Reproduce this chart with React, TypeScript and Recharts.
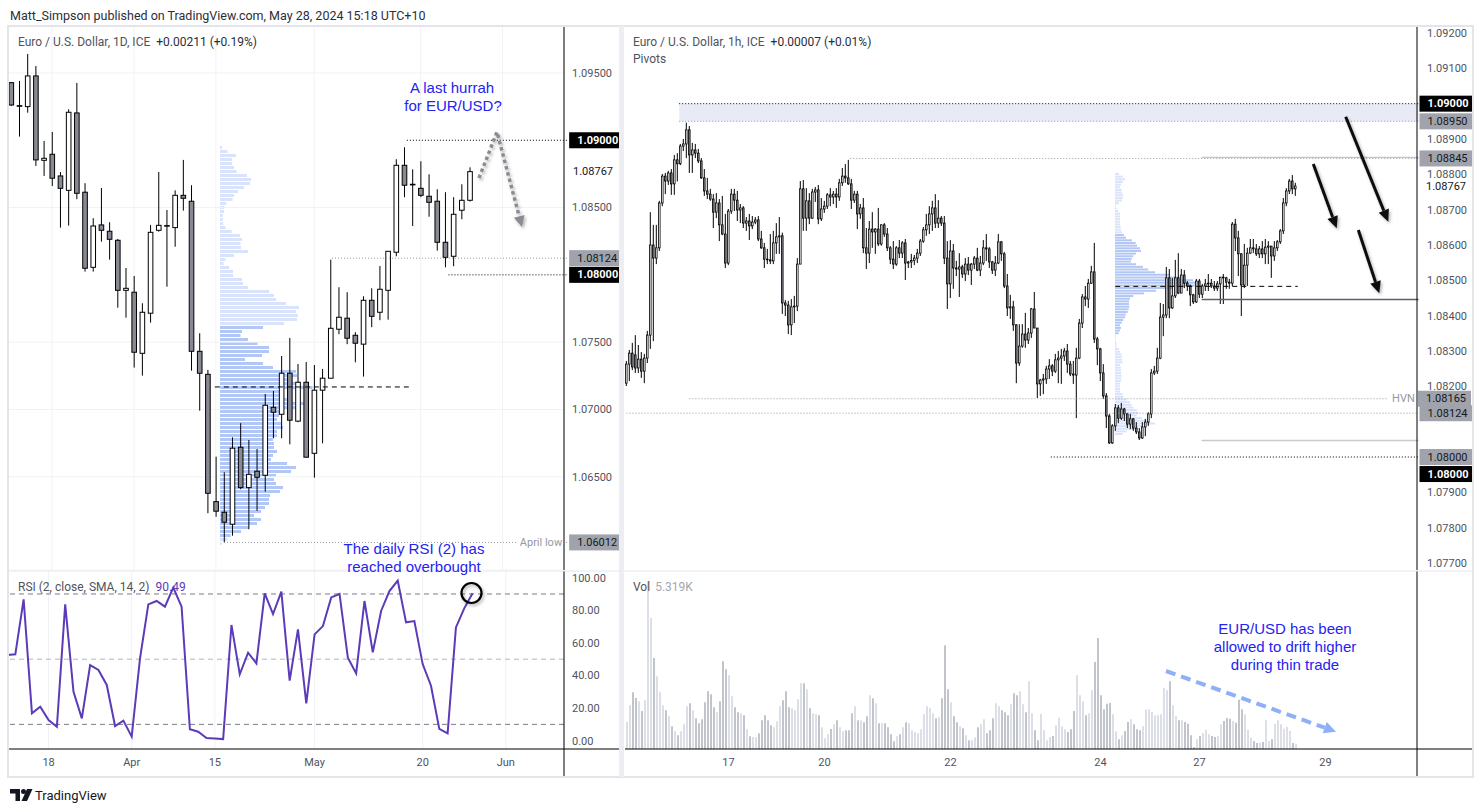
// @ts-nocheck
import React from "react";
import {
  ComposedChart,
  BarChart,
  Bar,
  Line,
  XAxis,
  YAxis,
  CartesianGrid,
  ReferenceLine,
  ReferenceArea,
  Cell,
} from "recharts";

const FONT = "Roboto, 'Liberation Sans', sans-serif";
const NOTE_BLUE = "#2323f2";
const GREY_TAG = "#a0a3ab";
const DOWN_FILL = "#878a93";

// ---- daily EUR/USD (Mar 11 -> May 28), [open, high, low, close]
const dailyOHLC = [
  [1.09428, 1.09433, 1.09255, 1.09262],
  [1.09257, 1.09441, 1.09027, 1.09255],
  [1.0925, 1.09641, 1.09205, 1.09478],
  [1.09478, 1.09552, 1.08809, 1.08854],
  [1.08851, 1.08995, 1.08735, 1.08866],
  [1.08896, 1.09062, 1.0866, 1.08718],
  [1.08735, 1.08764, 1.08351, 1.08643],
  [1.08628, 1.0923, 1.08366, 1.09208],
  [1.09203, 1.09426, 1.08562, 1.08606],
  [1.08614, 1.08681, 1.08024, 1.08049],
  [1.08056, 1.08421, 1.08024, 1.08363],
  [1.08371, 1.08646, 1.08247, 1.08331],
  [1.08324, 1.08391, 1.08113, 1.08264],
  [1.08257, 1.08267, 1.07756, 1.07885],
  [1.07885, 1.08051, 1.07682, 1.079],
  [1.07871, 1.07992, 1.07311, 1.07425],
  [1.07417, 1.07789, 1.07251, 1.07722],
  [1.07715, 1.08371, 1.07645, 1.08316],
  [1.08331, 1.08764, 1.08321, 1.08368],
  [1.08366, 1.08482, 1.07912, 1.08366],
  [1.08351, 1.08628, 1.08209, 1.08591],
  [1.08591, 1.08854, 1.08477, 1.08569],
  [1.08547, 1.08666, 1.07288, 1.07432],
  [1.07432, 1.07566, 1.06991, 1.07269],
  [1.07261, 1.07294, 1.06229, 1.06377],
  [1.06315, 1.06649, 1.06203, 1.06244],
  [1.06236, 1.06533, 1.06013, 1.06162],
  [1.06147, 1.06793, 1.06062, 1.06712],
  [1.06719, 1.06898, 1.06407, 1.06419],
  [1.06419, 1.06773, 1.0611, 1.06518],
  [1.06541, 1.06706, 1.06246, 1.06496],
  [1.06511, 1.07115, 1.06389, 1.07031],
  [1.07016, 1.07137, 1.06786, 1.06979],
  [1.06964, 1.07397, 1.06786, 1.07269],
  [1.07269, 1.07531, 1.06741, 1.0692],
  [1.06913, 1.07338, 1.06905, 1.07202],
  [1.07202, 1.07353, 1.06645, 1.06645],
  [1.06674, 1.0733, 1.06493, 1.07143],
  [1.07143, 1.07301, 1.06748, 1.07232],
  [1.07232, 1.08113, 1.07232, 1.07603],
  [1.07596, 1.07908, 1.07559, 1.07685],
  [1.07678, 1.07871, 1.07485, 1.07529],
  [1.07551, 1.07574, 1.0735, 1.07492],
  [1.07485, 1.07841, 1.07244, 1.07811],
  [1.07811, 1.079, 1.07611, 1.07692],
  [1.07722, 1.08066, 1.07663, 1.07893],
  [1.07885, 1.08175, 1.07667, 1.08175],
  [1.08168, 1.08859, 1.08138, 1.08814],
  [1.08814, 1.08948, 1.08577, 1.08666],
  [1.08673, 1.08784, 1.08363, 1.08673],
  [1.08643, 1.08844, 1.08577, 1.08591],
  [1.08584, 1.08747, 1.08432, 1.08539],
  [1.08547, 1.08636, 1.0818, 1.08242],
  [1.08242, 1.08614, 1.08056, 1.0813],
  [1.08138, 1.08577, 1.08064, 1.0845],
  [1.0848, 1.08673, 1.08413, 1.08554],
  [1.08554, 1.08799, 1.08545, 1.08767],
];

const dailyRSI = [
  52.6, 53, 86.7, 16.8, 20.9, 12.7, 8.6, 83.6, 30, 13.7, 46.4, 43.4, 34.2, 9, 12.3, 2.5, 50.5, 83.6,
  85.7, 82.2, 93.9, 82.2, 7, 5.5, 1.6, 1.4, 1, 71, 40.7, 54, 47.4, 90.4, 77.7, 91.4, 36.8, 68.3, 22.9,
  65.2, 70.3, 87.9, 90, 50.9, 41.3, 85.7, 54.2, 79.6, 91.8, 98.2, 72.6, 73.4, 47, 33.7, 7.2, 4.5, 69.5,
  81.2, 90.49,
];

// visible-range volume profile on the daily chart, top row first
const dailyProfile = [
  2, 7.5, 16, 12, 12, 14, 16.6, 27, 31, 30, 24, 18, 14, 12.6, 6.3, 4.3, 4, 2.8, 2.8, 3, 5.5, 11.5, 20,
  22, 20.5, 21, 28, 14, 5.5, 3.5, 9, 13, 13, 22, 23, 28, 49, 54, 56, 66, 79, 76, 78, 77, 64, 43, 22,
  20.5, 28, 37.5, 49, 49, 42, 25, 43, 53, 76, 77, 71, 75, 92.5, 63, 61, 67, 85, 81, 63, 59, 57, 61, 63,
  57, 57, 53, 54, 54, 57, 53, 51, 67, 76, 71, 56, 54, 56, 63, 60, 50, 49, 49, 45, 41, 34, 41, 37, 29,
  21, 10.7, 7.5, 1.6,
];
const dailyValueArea = [45, 97];

const dailyTickIdx = [5, 15, 25, 37, 50, 60];
const dailyTickLabels = ["18", "Apr", "15", "May", "20", "Jun"];
const dailyPriceTicks = [1.065, 1.07, 1.075, 1.085, 1.095];
const rsiTicks = [0, 20, 40, 60, 80, 100];

// ---- hourly EUR/USD, [open, high, low, close] in pips above 1.0800
const hourlyPips = [
  [20.9, 27.2, 20.1, 26.3], [26.3, 30.3, 21.5, 29.4], [29.4, 32.3, 24.6, 25.5], [28.9, 34.5, 23.8, 25.2],
  [25.2, 31.7, 23.8, 27.7], [27.7, 29.7, 22.4, 24.3], [24.3, 29.2, 20.9, 28.0], [28.0, 35.7, 26.6, 34.5],
  [34.5, 69.3, 30.6, 60.0], [60.0, 65.7, 32.8, 56.3], [56.3, 65.7, 54.6, 59.2], [59.2, 72.5, 58.3, 71.9],
  [71.9, 80.1, 71.0, 79.5], [79.5, 80.4, 74.4, 78.1], [78.1, 81.0, 77.0, 80.4], [80.4, 81.5, 74.2, 77.3],
  [77.3, 85.5, 74.2, 84.1], [84.1, 86.0, 78.0, 83.0], [83.0, 88.6, 82.6, 88.0], [88.0, 90.0, 86.6, 88.6],
  [88.6, 94.6, 84.6, 92.6], [92.6, 93.7, 80.4, 85.5], [85.5, 88.9, 80.4, 86.9], [86.9, 88.6, 84.6, 86.0],
  [86.0, 87.2, 83.2, 83.8], [83.8, 84.6, 78.7, 79.0], [79.0, 81.5, 73.9, 75.3], [75.3, 79.0, 73.0, 74.4],
  [74.4, 75.9, 72.5, 73.0], [73.0, 74.4, 64.8, 69.3], [69.3, 74.7, 67.6, 71.9], [71.9, 73.0, 61.1, 65.7],
  [65.7, 73.9, 62.8, 63.1], [63.1, 68.8, 53.5, 54.9], [54.9, 70.2, 54.3, 69.6], [69.6, 75.9, 68.8, 74.4],
  [74.4, 75.9, 69.6, 72.7], [72.7, 75.3, 66.8, 69.9], [69.9, 71.6, 66.2, 70.5], [70.5, 71.0, 64.8, 66.2],
  [66.2, 67.9, 64.0, 66.8], [66.8, 68.8, 61.4, 65.4], [65.4, 68.2, 64.5, 66.5], [66.5, 67.9, 65.9, 67.1],
  [67.1, 68.2, 61.1, 61.7], [61.7, 64.0, 58.9, 59.2], [59.2, 60.6, 53.5, 56.0], [56.0, 58.9, 54.6, 55.8],
  [55.8, 63.1, 54.6, 55.5], [55.5, 64.0, 54.6, 60.6], [60.6, 66.2, 57.5, 62.3], [62.3, 67.9, 57.5, 62.6],
  [62.6, 63.5, 40.5, 43.6], [43.6, 44.4, 39.9, 43.0], [43.0, 44.2, 34.8, 37.4], [37.4, 44.7, 34.5, 42.5],
  [42.5, 45.6, 37.9, 42.7], [42.7, 56.3, 41.3, 54.6], [54.6, 78.1, 54.6, 75.9], [75.9, 78.4, 64.0, 67.6],
  [67.6, 76.1, 64.0, 72.5], [72.5, 74.7, 65.9, 67.6], [67.6, 75.9, 67.4, 75.0], [75.0, 76.4, 72.2, 75.6],
  [75.6, 77.0, 65.9, 67.4], [67.4, 73.3, 66.8, 70.2], [70.2, 72.5, 69.1, 71.0], [71.0, 74.7, 70.2, 74.2],
  [74.2, 76.1, 71.0, 73.6], [73.6, 75.3, 71.6, 74.4], [74.4, 76.1, 70.5, 73.6], [73.6, 78.7, 72.5, 77.6],
  [77.6, 81.8, 76.7, 79.5], [79.5, 82.9, 77.6, 79.0], [79.0, 84.1, 77.0, 77.3], [77.3, 78.7, 70.2, 72.7],
  [72.7, 75.3, 71.9, 74.4], [74.4, 75.3, 64.5, 68.8], [68.8, 71.6, 67.4, 70.5], [70.5, 73.3, 57.7, 59.2],
  [59.2, 64.8, 53.2, 57.7], [57.7, 66.8, 54.9, 64.5], [64.5, 69.3, 59.2, 63.7], [63.7, 64.8, 57.5, 64.5],
  [64.5, 70.5, 59.7, 60.3], [60.3, 65.9, 59.8, 65.7], [65.7, 66.2, 62.3, 63.1], [63.1, 64.8, 58.3, 59.2],
  [59.2, 59.7, 54.6, 56.0], [56.0, 61.1, 53.2, 54.6], [54.6, 59.7, 54.1, 59.2], [59.2, 61.4, 56.3, 57.7],
  [57.7, 61.1, 56.3, 60.6], [60.6, 61.7, 50.1, 54.9], [54.9, 55.5, 53.5, 55.2], [55.2, 57.5, 53.5, 55.6],
  [55.6, 57.2, 54.3, 56.3], [56.3, 58.9, 54.9, 57.7], [57.7, 61.7, 56.9, 61.1], [61.1, 65.1, 60.6, 64.3],
  [64.3, 68.8, 62.6, 65.7], [65.7, 71.0, 63.1, 68.8], [68.8, 72.5, 64.0, 70.5], [70.5, 74.4, 64.8, 66.2],
  [66.2, 72.7, 64.8, 67.6], [67.6, 68.2, 65.4, 66.2], [66.2, 68.2, 54.6, 56.3], [56.3, 61.1, 41.9, 49.0],
  [49.0, 61.4, 45.0, 58.3], [58.3, 60.3, 47.6, 53.5], [53.5, 55.5, 51.2, 53.2], [53.2, 57.7, 45.3, 53.8],
  [53.8, 54.4, 50.7, 51.8], [51.8, 56.3, 49.8, 54.6], [54.6, 56.6, 51.5, 52.9], [52.9, 54.9, 48.7, 54.6],
  [54.6, 56.9, 53.2, 56.3], [56.3, 59.2, 52.6, 52.9], [52.9, 56.9, 51.2, 54.9], [54.9, 61.4, 54.3, 59.2],
  [59.2, 63.1, 55.5, 58.9], [58.9, 59.4, 53.5, 55.2], [55.2, 55.5, 51.8, 52.9], [52.9, 56.9, 51.2, 54.9],
  [54.9, 63.1, 54.6, 60.9], [60.9, 61.1, 55.5, 57.5], [57.5, 58.0, 47.8, 48.4], [48.4, 51.8, 39.9, 42.2],
  [42.2, 45.9, 39.1, 42.5], [42.5, 44.2, 35.7, 37.4], [37.4, 37.6, 20.9, 26.6], [26.6, 37.6, 25.8, 31.4],
  [31.4, 37.6, 30.9, 34.8], [34.8, 40.8, 30.9, 33.1], [33.1, 36.5, 32.0, 35.1], [35.1, 42.2, 33.7, 41.9],
  [41.9, 46.7, 36.5, 36.5], [36.5, 36.5, 16.7, 20.7], [20.7, 22.1, 17.3, 21.8], [21.8, 23.5, 17.8, 22.1],
  [22.1, 25.8, 20.7, 24.9], [24.9, 27.7, 22.1, 25.8], [25.8, 26.3, 22.9, 24.3], [24.3, 29.2, 23.8, 27.5],
  [27.5, 30.0, 20.9, 28.0], [28.0, 30.6, 20.7, 28.6], [28.6, 30.9, 27.2, 30.0], [30.0, 32.0, 23.8, 26.3],
  [26.3, 27.2, 22.9, 23.5], [23.5, 27.2, 20.7, 23.2], [23.2, 30.9, 11.0, 28.0], [28.0, 39.1, 27.7, 37.9],
  [37.9, 46.1, 36.5, 45.3], [45.3, 48.4, 42.7, 44.7], [44.7, 50.4, 42.2, 49.2], [49.2, 54.1, 49.0, 52.4],
  [52.4, 60.6, 32.3, 33.4], [33.4, 34.0, 26.0, 30.6], [30.6, 30.9, 21.5, 23.8], [23.8, 26.3, 16.4, 17.3],
  [17.3, 18.1, 8.2, 11.6], [11.6, 12.2, 3.7, 4.0], [4.0, 9.3, 3.7, 8.8], [8.8, 15.0, 7.4, 13.9],
  [13.9, 14.7, 9.6, 11.0], [11.0, 15.3, 10.5, 13.6], [13.6, 13.9, 10.2, 12.2], [12.2, 12.5, 8.2, 9.3],
  [9.3, 12.2, 7.9, 10.8], [10.8, 11.0, 7.4, 8.2], [8.2, 9.9, 6.5, 7.1], [7.1, 8.2, 4.8, 5.4],
  [5.4, 9.9, 5.1, 8.5], [8.5, 10.8, 5.9, 9.9], [9.9, 12.7, 8.8, 12.2], [12.2, 24.9, 11.0, 23.8],
  [23.8, 25.8, 23.2, 24.3], [24.3, 30.9, 23.5, 28.0], [28.0, 43.6, 27.7, 39.6], [39.6, 43.3, 34.2, 40.2],
  [40.2, 53.8, 39.3, 50.7], [50.7, 53.2, 39.3, 42.2], [42.2, 50.7, 41.9, 45.6], [45.6, 55.8, 45.0, 50.7],
  [50.7, 57.7, 46.1, 46.4], [46.4, 53.2, 46.4, 51.5], [51.5, 52.9, 47.8, 49.2], [49.2, 49.8, 47.0, 48.4],
  [48.4, 48.8, 42.7, 45.9], [45.9, 46.2, 43.3, 43.9], [43.9, 50.4, 43.6, 49.8], [49.8, 50.4, 45.0, 46.1],
  [46.1, 49.0, 45.0, 48.4], [48.4, 50.4, 47.0, 49.0], [49.0, 51.8, 47.0, 49.2], [49.2, 50.4, 47.8, 48.4],
  [48.4, 49.8, 47.0, 47.8], [47.8, 49.8, 47.0, 49.0], [49.0, 50.9, 43.3, 50.9], [50.9, 51.8, 43.3, 50.7],
  [50.7, 51.0, 47.6, 49.5], [49.5, 50.4, 47.6, 49.2], [49.2, 66.5, 48.4, 65.9], [65.9, 67.4, 58.3, 62.0],
  [62.0, 64.0, 51.2, 57.5], [57.5, 57.7, 39.9, 48.7], [48.7, 60.3, 47.8, 54.3], [54.3, 59.2, 48.4, 57.7],
  [57.7, 61.7, 57.5, 59.2], [59.2, 61.7, 57.7, 58.9], [58.9, 60.3, 56.9, 57.5], [57.5, 59.7, 56.3, 58.9],
  [58.9, 61.1, 56.3, 57.5], [57.5, 61.7, 54.6, 59.4], [59.4, 61.1, 54.6, 59.7], [59.7, 59.7, 50.7, 56.9],
  [56.9, 61.1, 55.5, 59.2], [59.2, 61.4, 58.3, 60.9], [60.9, 64.5, 60.3, 64.0], [64.0, 73.3, 63.1, 71.9],
  [71.9, 76.1, 71.0, 75.3], [75.3, 78.7, 74.4, 78.1], [78.1, 79.8, 74.4, 75.9], [75.9, 77.6, 73.9, 76.7],
];

// hourly volume, thousands
const hourlyVol = [
  27, 43.7, 56.7, 51, 47.7, 38, 48.7, 167.7, 131, 91, 72.7, 56.7, 43.7, 38.7, 32.7, 22.7, 18, 13.7, 17.7,
  24.7, 42.7, 45.7, 38.7, 30.7, 25.7, 29.7, 46.7, 57.7, 54.7, 41.7, 36.7, 47.7, 87.7, 79.7, 73.7, 52.7,
  41.7, 36.7, 35.7, 33.7, 19.7, 12.7, 12, 11.7, 15.7, 28.7, 33.7, 28.7, 23.7, 21.7, 27.7, 42.7, 48.7,
  57.7, 41.7, 40.7, 38.7, 49.7, 65.7, 65.7, 59.7, 40.7, 35.7, 34.7, 33.7, 21.7, 10.7, 14.7, 20, 24.7,
  28.7, 21.7, 17.7, 18.7, 18.7, 35.7, 42.7, 28.7, 28.7, 26.7, 32.7, 53.7, 50.7, 45.7, 25.7, 25.7, 25.7,
  21.7, 14.7, 7.7, 12.7, 14.7, 21.7, 26.7, 25.7, 18.7, 17, 15.7, 19.7, 34.7, 42.7, 40.7, 35.7, 30.7,
  31.7, 50.7, 103.7, 59.7, 46.7, 32.7, 26.7, 22.7, 20.7, 13.7, 8.7, 8.7, 11.7, 21.7, 24.7, 29.7, 15.7,
  18.7, 30.7, 45.7, 42.7, 38.7, 36.7, 33.7, 44.7, 55.7, 53.7, 57.7, 44.7, 36.7, 67.7, 35.7, 18.7, 8.7,
  35, 18.7, 8.7, 12, 13, 23.7, 31.3, 22.7, 19.7, 17, 19.7, 38, 73.7, 53.7, 47.7, 33.7, 35.7, 58.7, 87,
  111, 53.7, 39.7, 45.3, 46, 34.7, 17.7, 9.7, 13.7, 18, 27, 29.7, 24.7, 19.7, 18.7, 22.7, 39.7, 39.7,
  37, 33.7, 33.7, 34.7, 61, 58.7, 67.7, 43.7, 32.7, 28.7, 28.7, 27, 25.3, 13.7, 2, 9.7, 13, 16, 19.3,
  14.7, 13, 12, 13, 24.7, 28, 31, 30.3, 28, 26.3, 49.3, 39.7, 34.7, 19.3, 11.3, 8, 6, 6.3, 7, 28.7, 8,
  9.7, 25.3, 28.7, 24.7, 20.3, 22, 18, 6, 5.3,
];

// session volume profile on the hourly chart, top row first
const hourlyProfile = [
  4, 7.7, 10, 7.7, 6, 5, 6.7, 7, 8, 7.7, 7, 4, 1, 1.7, 3.3, 5, 5, 5, 5, 5, 5.7, 6, 7, 9, 11, 17, 20.7,
  22, 25, 26, 21, 18.3, 16.7, 16, 21, 28, 33.3, 40, 55, 65, 78, 85, 81.7, 58, 41, 29, 18.3, 15, 14, 14,
  14.3, 13.7, 12.7, 10.7, 10, 8.3, 7, 5, 6, 5, 3.7, 1, 0.7, 1, 1.7, 1.7, 4, 5, 6.7, 6.7, 7, 7.7, 5,
  5.7, 6, 6, 6.7, 6.3, 6, 5, 5, 5, 5, 7.7, 8.3, 11.7, 15, 16.7, 18.3, 21.7, 23.3, 21.7, 26.7, 33.3, 40,
  28.3, 23.3, 11.7, 7.7,
];
const hourlyValueArea = [23, 60];

const hourlyTickIdx = [34, 66, 108, 158, 191, 233];
const hourlyTickLabels = ["17", "20", "22", "24", "27", "29"];
// 1.08100 sits under the 1.08124 tag on the price scale, so it is left out
const hourlyPriceTicks = [
  1.092, 1.091, 1.089, 1.088, 1.087, 1.086, 1.085, 1.084, 1.083, 1.082, 1.079, 1.078, 1.077,
];

const DAILY_SLOTS = 68;
const HOURLY_SLOTS = 264;

const dailyRows = Array.from({ length: DAILY_SLOTS }, (_, i) => {
  const k = dailyOHLC[i];
  if (!k) return { i };
  return { i, o: k[0], h: k[1], l: k[2], c: k[3], range: [k[2], k[1]], rsi: dailyRSI[i] };
});

const hourlyRows = Array.from({ length: HOURLY_SLOTS }, (_, i) => {
  const k = hourlyPips[i];
  if (!k) return { i };
  const [o, h, l, c] = k.map((p) => 1.08 + p / 10000);
  return { i, o, h, l, c, range: [l, h], v: hourlyVol[i] };
});

const dailyProfileRows = dailyProfile.map((w, k) => ({
  k,
  w,
  va: k >= dailyValueArea[0] && k <= dailyValueArea[1],
}));
const hourlyProfileRows = hourlyProfile.map((w, k) => ({
  k,
  w,
  va: k >= hourlyValueArea[0] && k <= hourlyValueArea[1],
}));

const dailyTickText = Object.fromEntries(dailyTickIdx.map((t, k) => [t, dailyTickLabels[k]]));
const hourlyTickText = Object.fromEntries(hourlyTickIdx.map((t, k) => [t, hourlyTickLabels[k]]));

const makeCandle = (bodyW, strokeW) => (props) => {
  const { x, y, width, height, payload } = props;
  if (!payload || payload.o == null) return null;
  const { o, h, l, c } = payload;
  const top = Math.min(y, y + height);
  const H = Math.abs(height);
  const span = h - l || 1;
  const py = (p) => top + ((h - p) / span) * H;
  const cx = x + width / 2;
  const bt = py(Math.max(o, c));
  const bb = py(Math.min(o, c));
  return (
    <g>
      <line x1={cx} x2={cx} y1={top} y2={top + H} stroke="#000" strokeWidth={1} />
      <rect
        x={cx - bodyW / 2}
        y={bt}
        width={bodyW}
        height={Math.max(bb - bt, 0.6)}
        fill={c >= o ? "#fff" : DOWN_FILL}
        stroke="#000"
        strokeWidth={strokeW}
      />
    </g>
  );
};

const dailyCandle = makeCandle(4.6, 1);
const hourlyCandle = makeCandle(1.6, 0.8);

// price tag drawn on the price scale, right of the plot
function AxisTag({ viewBox, text, bg, fg, bold, w = 52, dy = 0, gap = 1 }) {
  if (!viewBox) return null;
  const x0 = viewBox.x + viewBox.width;
  const y = viewBox.y + dy;
  return (
    <g>
      <rect x={x0 + gap} y={y - 8} width={w} height={16} fill={bg} />
      <text
        x={x0 + 9}
        y={y}
        dominantBaseline="central"
        fontSize={11}
        fontFamily={FONT}
        fontWeight={bold ? 700 : 400}
        fill={fg}
      >
        {text}
      </text>
    </g>
  );
}

function EndText({ viewBox, text, anchor = "start", dx = 4, pad = 0 }) {
  if (!viewBox) return null;
  const x = anchor === "start" ? viewBox.x + viewBox.width + dx : viewBox.x + viewBox.width - dx;
  return (
    <g>
      {pad > 0 && <rect x={anchor === "start" ? x - 2 : x - pad} y={viewBox.y - 7} width={pad + 2} height={14} fill="#fff" />}
      <text x={x} y={viewBox.y} dominantBaseline="central" textAnchor={anchor} fontSize={11} fontFamily={FONT} fill="#9598a1">
        {text}
      </text>
    </g>
  );
}

function AprilLowLabel({ viewBox }) {
  return (
    <g>
      <EndText viewBox={viewBox} text="April low" anchor="end" dx={6} pad={46} />
      <AxisTag viewBox={viewBox} text="1.06012" bg={GREY_TAG} fg="#131722" />
    </g>
  );
}

function DoubleTag({ viewBox }) {
  return (
    <g>
      <AxisTag viewBox={viewBox} text="1.08000" bg={GREY_TAG} fg="#131722" w={53} />
      <AxisTag viewBox={viewBox} text="1.08000" bg="#000" fg="#fff" bold w={53} dy={17} />
    </g>
  );
}

const tickStyle = { fontSize: 11, fill: "#50535e", fontFamily: FONT };
const dotted = "1 2";
const VIS = "visible";

function Arrow({ pts, color, w, dash, head = 12, hw = 5.5 }) {
  const [x2, y2] = pts[pts.length - 1];
  const [x1, y1] = pts[pts.length - 2];
  const a = Math.atan2(y2 - y1, x2 - x1);
  const bx = x2 - head * Math.cos(a);
  const by = y2 - head * Math.sin(a);
  const px = -Math.sin(a) * hw;
  const py = Math.cos(a) * hw;
  const line = [...pts.slice(0, -1), [bx, by]].map((p) => p.join(",")).join(" ");
  return (
    <g>
      <polyline points={line} fill="none" stroke={color} strokeWidth={w} strokeDasharray={dash} />
      <polygon points={`${x2},${y2} ${bx + px},${by + py} ${bx - px},${by - py}`} fill={color} />
    </g>
  );
}

export default function App() {
  const abs = (left, top) => ({ position: "absolute", left, top });
  return (
    <div style={{ position: "absolute", left: 0, top: 0, width: 1482, height: 812, background: "#fff", fontFamily: FONT, overflow: "hidden" }}>
      {/* volume profiles sit under the candles */}
      <div style={abs(220, 145)}>
        <BarChart layout="vertical" width={345} height={400} data={dailyProfileRows} margin={{ top: 0, right: 0, bottom: 0, left: 0 }}>
          <XAxis type="number" domain={[0, 345]} hide />
          <YAxis type="category" dataKey="k" hide />
          <Bar dataKey="w" barSize={3} isAnimationActive={false}>
            {dailyProfileRows.map((r) => (
              <Cell key={r.k} fill={r.va ? "#b3c7f6" : "#d9e3fb"} />
            ))}
          </Bar>
        </BarChart>
      </div>
      <div style={abs(1115, 172.7)}>
        <BarChart layout="vertical" width={200} height={262.7} data={hourlyProfileRows} margin={{ top: 0, right: 0, bottom: 0, left: 0 }}>
          <XAxis type="number" domain={[0, 200]} hide />
          <YAxis type="category" dataKey="k" hide />
          <Bar dataKey="w" barSize={2} isAnimationActive={false}>
            {hourlyProfileRows.map((r) => (
              <Cell key={r.k} fill={r.va ? "#b3c7f6" : "#d9e3fb"} />
            ))}
          </Bar>
        </BarChart>
      </div>

      {/* daily candles */}
      <div style={abs(7, 26)}>
        <ComposedChart width={613} height={544} data={dailyRows} margin={{ top: 0, right: 0, bottom: 0, left: 0 }}>
          <CartesianGrid stroke="#f1f2f5" />
          <XAxis dataKey="i" type="category" hide ticks={dailyTickIdx} interval={0} />
          <XAxis xAxisId="n" type="number" domain={[-0.5, DAILY_SLOTS - 0.5]} hide allowDataOverflow />
          <YAxis
            orientation="right"
            width={56}
            domain={[1.05807, 1.09849]}
            allowDataOverflow
            ticks={dailyPriceTicks}
            tickFormatter={(v) => v.toFixed(5)}
            axisLine={{ stroke: "#000" }}
            tickLine={false}
            tick={tickStyle}
          />
          <ReferenceLine xAxisId="n" ifOverflow={VIS} segment={[{ x: 25, y: 1.07167 }, { x: 48.4, y: 1.07167 }]} stroke="#000" strokeDasharray="5 4" />
          <ReferenceLine xAxisId="n" ifOverflow={VIS} segment={[{ x: 48.1, y: 1.09 }, { x: 67.5, y: 1.09 }]} stroke="#000" strokeDasharray={dotted}
            label={<AxisTag text="1.09000" bg="#000" fg="#fff" bold />} />
          <ReferenceLine xAxisId="n" ifOverflow={VIS} y={1.08767} stroke="none" label={<AxisTag text="1.08767" bg="#fff" fg="#131722" gap={-1} />} />
          <ReferenceLine xAxisId="n" ifOverflow={VIS} segment={[{ x: 39.1, y: 1.08124 }, { x: 67.5, y: 1.08124 }]} stroke="#9598a1" strokeDasharray={dotted}
            label={<AxisTag text="1.08124" bg={GREY_TAG} fg="#131722" />} />
          <ReferenceLine xAxisId="n" ifOverflow={VIS} segment={[{ x: 53.1, y: 1.08 }, { x: 67.5, y: 1.08 }]} stroke="#000" strokeDasharray={dotted}
            label={<AxisTag text="1.08000" bg="#000" fg="#fff" bold />} />
          <ReferenceLine xAxisId="n" ifOverflow={VIS} segment={[{ x: 26.1, y: 1.06012 }, { x: 67.5, y: 1.06012 }]} stroke="#9598a1" strokeDasharray={dotted}
            label={<AprilLowLabel />} />
          <Bar dataKey="range" shape={dailyCandle} isAnimationActive={false} />
        </ComposedChart>
      </div>

      {/* daily RSI */}
      <div style={abs(7, 571)}>
        <ComposedChart width={613} height={205} data={dailyRows} margin={{ top: 0, right: 0, bottom: 0, left: 0 }}>
          <CartesianGrid stroke="#f1f2f5" horizontal={false} />
          <XAxis
            dataKey="i"
            type="category"
            ticks={dailyTickIdx}
            interval={0}
            tickFormatter={(v) => dailyTickText[v]}
            axisLine={{ stroke: "#000" }}
            tickLine={false}
            height={27}
            tick={tickStyle}
            tickMargin={3}
          />
          <YAxis
            orientation="right"
            width={56}
            domain={[-5.1, 104.1]}
            allowDataOverflow
            ticks={rsiTicks}
            tickFormatter={(v) => v.toFixed(2)}
            axisLine={{ stroke: "#000" }}
            tickLine={false}
            tick={tickStyle}
          />
          <ReferenceLine y={90} stroke="#787b86" strokeDasharray="5 4" />
          <ReferenceLine y={50} stroke="#b2b5be" strokeDasharray="5 4" />
          <ReferenceLine y={10} stroke="#787b86" strokeDasharray="5 4" />
          <Line dataKey="rsi" stroke="#5b3bb8" strokeWidth={2} dot={false} isAnimationActive={false} />
        </ComposedChart>
      </div>

      {/* hourly candles */}
      <div style={abs(625, 26)}>
        <ComposedChart width={851} height={544} data={hourlyRows} margin={{ top: 0, right: 0, bottom: 0, left: 0 }}>
          <XAxis dataKey="i" type="category" hide />
          <XAxis xAxisId="n" type="number" domain={[-0.5, HOURLY_SLOTS - 0.5]} hide allowDataOverflow />
          <YAxis
            orientation="right"
            width={59}
            domain={[1.076803, 1.092198]}
            allowDataOverflow
            ticks={hourlyPriceTicks}
            tickFormatter={(v) => v.toFixed(5)}
            axisLine={{ stroke: "#000" }}
            tickLine={false}
            tick={tickStyle}
            tickMargin={4}
          />
          <ReferenceArea xAxisId="n" ifOverflow={VIS} x1={18} x2={263.5} y1={1.0895} y2={1.09} fill="#e8eaf6" fillOpacity={1} stroke="none" />
          <ReferenceLine xAxisId="n" ifOverflow={VIS} segment={[{ x: 18, y: 1.09 }, { x: 263.5, y: 1.09 }]} stroke="#000" strokeDasharray={dotted}
            label={<AxisTag text="1.09000" bg="#000" fg="#fff" bold w={53} />} />
          <ReferenceLine xAxisId="n" ifOverflow={VIS} segment={[{ x: 18, y: 1.0895 }, { x: 263.5, y: 1.0895 }]} stroke="#9598a1" strokeDasharray={dotted}
            label={<AxisTag text="1.08950" bg={GREY_TAG} fg="#131722" w={53} />} />
          <ReferenceLine xAxisId="n" ifOverflow={VIS} segment={[{ x: 74.8, y: 1.08845 }, { x: 263.5, y: 1.08845 }]} stroke="#9598a1" strokeDasharray={dotted}
            label={<AxisTag text="1.08845" bg={GREY_TAG} fg="#131722" w={53} />} />
          <ReferenceLine xAxisId="n" ifOverflow={VIS} segment={[{ x: 191.5, y: 1.08848 }, { x: 263.5, y: 1.08848 }]} stroke="#c3c5cc" strokeWidth={1.2} />
          <ReferenceLine xAxisId="n" ifOverflow={VIS} y={1.08767} stroke="none" label={<AxisTag text="1.08767" bg="#fff" fg="#131722" gap={-1} w={55} />} />
          <ReferenceLine xAxisId="n" ifOverflow={VIS} segment={[{ x: 191.5, y: 1.08446 }, { x: 263.5, y: 1.08446 }]} stroke="#5d606b" strokeWidth={1.5} />
          <ReferenceLine xAxisId="n" ifOverflow={VIS} segment={[{ x: 162.8, y: 1.08483 }, { x: 223.4, y: 1.08483 }]} stroke="#000" strokeDasharray="5 4" />
          <ReferenceLine xAxisId="n" ifOverflow={VIS} segment={[{ x: 21.4, y: 1.08165 }, { x: 253.4, y: 1.08165 }]} stroke="#9598a1" strokeDasharray={dotted}
            label={<EndText text="HVN" dx={4} />} />
          <ReferenceLine xAxisId="n" ifOverflow={VIS} y={1.08165} stroke="none" label={<AxisTag text="1.08165" bg={GREY_TAG} fg="#131722" w={53} />} />
          <ReferenceLine xAxisId="n" ifOverflow={VIS} segment={[{ x: -0.5, y: 1.08124 }, { x: 263.5, y: 1.08124 }]} stroke="#9598a1" strokeDasharray={dotted}
            label={<AxisTag text="1.08124" bg={GREY_TAG} fg="#131722" w={53} />} />
          <ReferenceLine xAxisId="n" ifOverflow={VIS} segment={[{ x: 191.5, y: 1.08047 }, { x: 263.5, y: 1.08047 }]} stroke="#c8cad0" strokeWidth={1.5} />
          <ReferenceLine xAxisId="n" ifOverflow={VIS} segment={[{ x: 141.4, y: 1.08 }, { x: 263.5, y: 1.08 }]} stroke="#000" strokeDasharray={dotted}
            label={<DoubleTag />} />
          <Bar dataKey="range" shape={hourlyCandle} isAnimationActive={false} />
        </ComposedChart>
      </div>

      {/* hourly volume */}
      <div style={abs(625, 571)}>
        <BarChart width={851} height={205} data={hourlyRows} margin={{ top: 0, right: 0, bottom: 0, left: 0 }}>
          <XAxis
            dataKey="i"
            type="category"
            ticks={hourlyTickIdx}
            interval={0}
            tickFormatter={(v) => hourlyTickText[v]}
            axisLine={{ stroke: "#000" }}
            tickLine={false}
            height={27}
            tick={tickStyle}
            tickMargin={3}
          />
          <YAxis orientation="right" width={59} domain={[0, 178]} allowDataOverflow tick={false} tickLine={false} axisLine={{ stroke: "#000" }} />
          <Bar dataKey="v" barSize={2} isAnimationActive={false}>
            {hourlyRows.map((r) => (
              <Cell key={r.i} fill={r.c >= r.o ? "#dcdfe5" : "#c2c4cb"} />
            ))}
          </Bar>
        </BarChart>
      </div>

      {/* frame, titles and drawings */}
      <svg width={1482} height={812} style={{ position: "absolute", left: 0, top: 0, pointerEvents: "none" }}>
        <defs>
          <filter id="sh" x="-50%" y="-50%" width="200%" height="200%">
            <feDropShadow dx="1.5" dy="2" stdDeviation="1.6" floodColor="#000" floodOpacity="0.3" />
          </filter>
        </defs>
        <rect x={8} y={26} width={1465} height={751} fill="none" stroke="#e3e5ea" strokeWidth={2} />
        <rect x={619} y={26} width={5} height={751} fill="#eceef2" />
        <line x1={8} x2={619} y1={571} y2={571} stroke="#e3e5ea" />
        <line x1={624} x2={1473} y1={571} y2={571} stroke="#e3e5ea" />
        <line x1={564} x2={619} y1={749} y2={749} stroke="#000" />
        <line x1={1417} x2={1472} y1={749} y2={749} stroke="#000" />
        <line x1={564} x2={564} y1={749} y2={776} stroke="#000" />
        <line x1={1417} x2={1417} y1={749} y2={776} stroke="#000" />

        <text x={10} y={15} dominantBaseline="central" fontSize={12.5} fill="#2a2e39">
          Matt_Simpson published on TradingView.com, May 28, 2024 15:18 UTC+10
        </text>
        <text x={18} y={42} dominantBaseline="central" fontSize={12} fill="#50535e">
          Euro / U.S. Dollar, 1D, ICE<tspan fill="#2a2e39" dx={6}>+0.00211 (+0.19%)</tspan>
        </text>
        <text x={633} y={42} dominantBaseline="central" fontSize={12} fill="#50535e">
          Euro / U.S. Dollar, 1h, ICE<tspan fill="#2a2e39" dx={6}>+0.00007 (+0.01%)</tspan>
        </text>
        <text x={633} y={59} dominantBaseline="central" fontSize={12} fill="#50535e">Pivots</text>
        <text x={18} y={587} dominantBaseline="central" fontSize={12} fill="#50535e">
          RSI (2, close, SMA, 14, 2)<tspan fill="#5b3bb8" dx={6}>90.49</tspan>
        </text>
        <text x={633} y={587} dominantBaseline="central" fontSize={12} fill="#50535e">
          Vol<tspan fill="#a3a6af" dx={5}>5.319K</tspan>
        </text>

        <g fontFamily="'Liberation Sans', Arial, sans-serif" fontSize={15} fill={NOTE_BLUE} textAnchor="middle">
          <text x={452} y={93}>A last hurrah</text>
          <text x={453} y={111}>for EUR/USD?</text>
          <text x={414} y={554}>The daily RSI (2) has</text>
          <text x={414} y={572}>reached overbought</text>
          <text x={1285} y={634}>EUR/USD has been</text>
          <text x={1285} y={652}>allowed to drift higher</text>
          <text x={1285} y={670}>during thin trade</text>
        </g>

        <g filter="url(#sh)">
          <Arrow pts={[[479, 178], [497, 132], [522, 227]]} color="#8a8c92" w={3.5} dash="3.5 3" head={11} hw={5.5} />
        </g>
        <g filter="url(#sh)">
          <Arrow pts={[[1345.7, 116.7], [1388.3, 221.7]]} color="#111" w={3} head={12} hw={5.5} />
          <Arrow pts={[[1313.3, 164], [1336.7, 228.3]]} color="#111" w={3} head={12} hw={5.5} />
          <Arrow pts={[[1358.3, 230], [1379.3, 293.3]]} color="#111" w={3} head={12} hw={5.5} />
        </g>
        <Arrow pts={[[1166, 671], [1336, 731.7]]} color="#8fb0f7" w={4} dash="10 6" head={12} hw={6} />
        <circle cx={471.5} cy={593} r={10} fill="none" stroke="#000" strokeWidth={2.2} filter="url(#sh)" />

        <g>
          <path d="M10 789 h10 v12 h-4.5 v-7.5 h-5.5 z" fill="#131722" />
          <circle cx={23.5} cy={791.5} r={2.5} fill="#131722" />
          <path d="M27 789 h5.5 l-5.5 12 h-5.5 z" fill="#131722" />
        </g>
        <text x={35} y={795} dominantBaseline="central" fontSize={13} fill="#131722">TradingView</text>
      </svg>
    </div>
  );
}
